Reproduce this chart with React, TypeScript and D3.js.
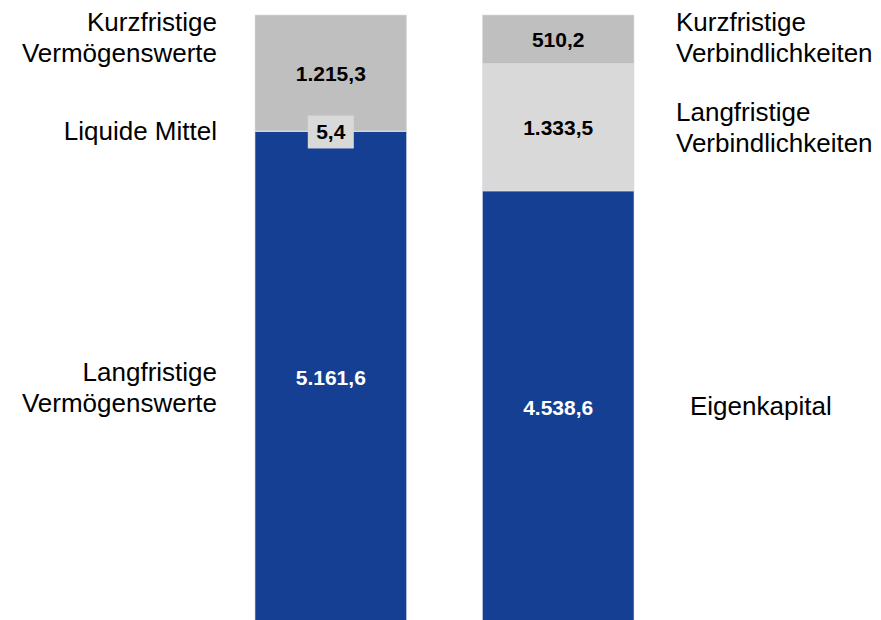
import React, { useEffect, useRef } from "react";
import * as d3 from "d3";

// Bilanzstruktur (Mio. EUR)
const columns = ["Aktiva", "Passiva"];
const aktivaKeys = ["Langfristige Vermögenswerte", "Liquide Mittel", "Kurzfristige Vermögenswerte"];
const aktivaValues = [5161.6, 5.4, 1215.3];
const passivaKeys = ["Eigenkapital", "Langfristige Verbindlichkeiten", "Kurzfristige Verbindlichkeiten"];
const passivaValues = [4538.6, 1333.5, 510.2];
const aktivaColors = ["#143f93", "#bfbfbf", "#bfbfbf"];
const passivaColors = ["#143f93", "#d9d9d9", "#bfbfbf"];

const fmt = (v: number) =>
  d3.format(",.1f")(v).replace(/,/g, "#").replace(".", ",").replace(/#/g, ".");

export default function App() {
  const svgRef = useRef<SVGSVGElement>(null);
  const width = 881;
  const height = 620;

  useEffect(() => {
    const svg = d3.select(svgRef.current);
    svg.selectAll("*").remove();

    const total = d3.sum(aktivaValues);
    const y = d3.scaleLinear().domain([0, total]).range([624, 15]);
    const x = d3.scaleBand().domain(columns).range([255, 634]).paddingInner(1 / 3).paddingOuter(0);

    const font = "'Liberation Sans', Arial, sans-serif";

    const stacks = [
      { col: columns[0], keys: aktivaKeys, values: aktivaValues, colors: aktivaColors },
      { col: columns[1], keys: passivaKeys, values: passivaValues, colors: passivaColors },
    ];

    stacks.forEach((s) => {
      let acc = 0;
      const segs = s.values.map((v, i) => {
        const seg = { key: s.keys[i], v, y0: acc, y1: acc + v, color: s.colors[i] };
        acc += v;
        return seg;
      });
      const g = svg.append("g");
      g.selectAll("rect")
        .data(segs)
        .join("rect")
        .attr("x", x(s.col)!)
        .attr("width", x.bandwidth())
        .attr("y", (d) => y(d.y1))
        .attr("height", (d) => y(d.y0) - y(d.y1))
        .attr("fill", (d) => d.color)
        .attr("stroke", "#dcdce8")
        .attr("stroke-width", 0.6);

      segs.forEach((d) => {
        const cx = x(s.col)! + x.bandwidth() / 2;
        let cy = (y(d.y0) + y(d.y1)) / 2;
        const small = y(d.y0) - y(d.y1) < 10;
        if (small) {
          cy = y(d.y0);
          g.append("rect")
            .attr("x", cx - 23)
            .attr("y", cy - 16)
            .attr("width", 46)
            .attr("height", 33)
            .attr("fill", "#d9d9d9");
        }
        g.append("text")
          .attr("x", cx)
          .attr("y", cy)
          .attr("dy", "0.36em")
          .attr("text-anchor", "middle")
          .attr("font-family", font)
          .attr("font-weight", "bold")
          .attr("font-size", 21)
          .attr("fill", d.color === "#143f93" ? "#ffffff" : "#000000")
          .text(fmt(d.v));
      });
    });

    // Beschriftungen
    const labels = [
      { lines: ["Kurzfristige", "Vermögenswerte"], x: 217, y: 31, anchor: "end" },
      { lines: ["Liquide Mittel"], x: 217, y: 140, anchor: "end" },
      { lines: ["Langfristige", "Vermögenswerte"], x: 217, y: 381, anchor: "end" },
      { lines: ["Kurzfristige", "Verbindlichkeiten"], x: 676, y: 31, anchor: "start" },
      { lines: ["Langfristige", "Verbindlichkeiten"], x: 676, y: 121, anchor: "start" },
      { lines: ["Eigenkapital"], x: 690, y: 415, anchor: "start" },
    ];
    labels.forEach((l) => {
      const t = svg
        .append("text")
        .attr("x", l.x)
        .attr("y", l.y)
        .attr("text-anchor", l.anchor)
        .attr("font-family", font)
        .attr("font-size", 26)
        .attr("fill", "#000");
      l.lines.forEach((line, i) => {
        t.append("tspan").attr("x", l.x).attr("dy", i === 0 ? 0 : 31).text(line);
      });
    });
  }, []);

  return (
    <svg
      ref={svgRef}
      width={width}
      height={height}
      style={{ position: "absolute", left: 0, top: 0, background: "#fff", overflow: "hidden" }}
    />
  );
}
